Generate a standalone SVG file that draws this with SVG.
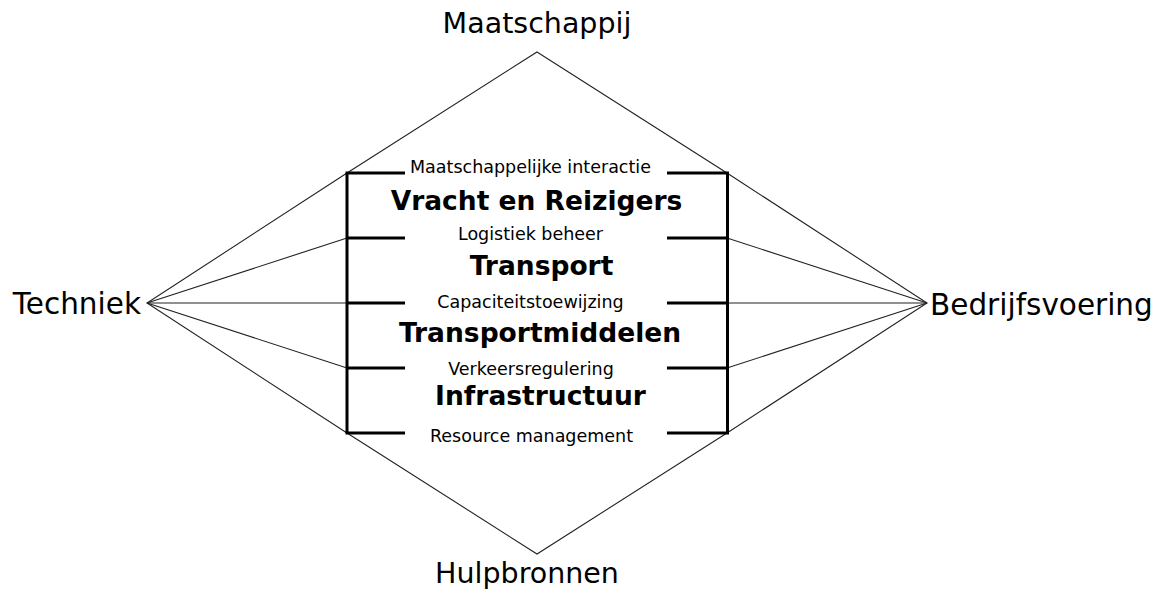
<svg xmlns="http://www.w3.org/2000/svg" width="1168" height="592" viewBox="0 0 1168 592">
<style>
.bg{fill:#ffffff}
.thin{stroke:#222;stroke-width:1.1;fill:none}
.thick{stroke:#000;stroke-width:3;fill:none}
.big{font-family:"DejaVu Sans","Liberation Sans",sans-serif;font-size:28.5px;fill:#000}
.wide{font-size:29.5px}
.lay{font-family:"DejaVu Sans","Liberation Sans",sans-serif;font-size:26.5px;font-weight:bold;fill:#000;text-anchor:middle}
.sub{font-family:"DejaVu Sans","Liberation Sans",sans-serif;font-size:17.5px;fill:#000;text-anchor:middle}
</style>
<rect class="bg" x="0" y="0" width="1168" height="592"/>
<g id="connectors">
<polygon class="thin" points="537,52 727,173 927,303 727,433 537,554 347,433 147,303 347,173"/>
<line class="thin" x1="147" y1="303" x2="347" y2="238"/>
<line class="thin" x1="147" y1="303" x2="347" y2="303"/>
<line class="thin" x1="147" y1="303" x2="347" y2="368"/>
<line class="thin" x1="927" y1="303" x2="727" y2="238"/>
<line class="thin" x1="927" y1="303" x2="727" y2="303"/>
<line class="thin" x1="927" y1="303" x2="727" y2="368"/>
</g>
<g id="node-maatschappij"><text class="big" x="537" y="33" text-anchor="middle">Maatschappij</text></g>
<g id="node-techniek"><text class="big wide" x="141" y="314" text-anchor="end">Techniek</text></g>
<g id="node-bedrijfsvoering"><text class="big wide" x="930" y="315" text-anchor="start">Bedrijfsvoering</text></g>
<g id="node-hulpbronnen"><text class="big" x="527" y="583" text-anchor="middle">Hulpbronnen</text></g>
<g id="node-lagen">
<line class="thick" x1="347" y1="173" x2="347" y2="433"/>
<line class="thick" x1="727.5" y1="173" x2="727.5" y2="433"/>
<g class="ticks">
<line class="thick" x1="345.5" y1="173" x2="405" y2="173"/><line class="thick" x1="667" y1="173" x2="729" y2="173"/>
<line class="thick" x1="347" y1="238" x2="405" y2="238"/><line class="thick" x1="667" y1="238" x2="727.5" y2="238"/>
<line class="thick" x1="347" y1="303" x2="405" y2="303"/><line class="thick" x1="667" y1="303" x2="727.5" y2="303"/>
<line class="thick" x1="347" y1="368" x2="405" y2="368"/><line class="thick" x1="667" y1="368" x2="727.5" y2="368"/>
<line class="thick" x1="345.5" y1="433" x2="405" y2="433"/><line class="thick" x1="667" y1="433" x2="729" y2="433"/>
</g>
<text class="sub" x="530.5" y="173">Maatschappelijke interactie</text>
<text class="lay" x="536.5" y="210">Vracht en Reizigers</text>
<text class="sub" x="530.5" y="239.5">Logistiek beheer</text>
<text class="lay" x="541.5" y="275">Transport</text>
<text class="sub" x="530.5" y="307.5">Capaciteitstoewijzing</text>
<text class="lay" x="540" y="341.5">Transportmiddelen</text>
<text class="sub" x="531" y="375">Verkeersregulering</text>
<text class="lay" x="540.5" y="405">Infrastructuur</text>
<text class="sub" x="531.5" y="441.5">Resource management</text>
</g>
</svg>
